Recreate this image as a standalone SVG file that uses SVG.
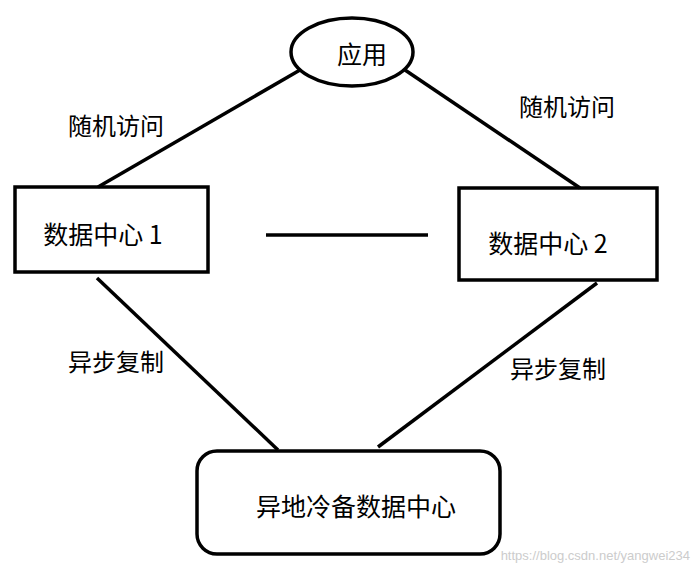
<svg xmlns="http://www.w3.org/2000/svg" width="700" height="574" viewBox="0 0 700 574">
<style>
.s{fill:none;stroke:#000;stroke-width:3.5}
.t{font-family:"Microsoft YaHei","Noto Sans CJK SC",sans-serif;font-size:25px;fill:#000;text-anchor:middle;dominant-baseline:central}
.l{font-family:"Noto Sans CJK SC",sans-serif;font-size:24px;fill:#000;text-anchor:middle;dominant-baseline:central}
</style>
<rect width="700" height="574" fill="#fff"/>
<g id="connectors">
<line class="s" x1="300" y1="70" x2="98" y2="187"/>
<line class="s" x1="405" y1="70" x2="580" y2="188"/>
<line class="s" x1="97" y1="278" x2="278" y2="450"/>
<line class="s" x1="597" y1="283" x2="378" y2="447"/>
<line class="s" x1="266" y1="235" x2="428" y2="235"/>
<text class="l" x="116" y="124">随机访问</text>
<text class="l" x="567" y="105">随机访问</text>
<text class="l" x="116" y="360">异步复制</text>
<text class="l" x="558" y="367">异步复制</text>
</g>
<g id="app"><ellipse class="s" cx="352" cy="52" rx="61" ry="34"/><text class="t" x="362" y="53">应用</text></g>
<g id="dc1"><rect class="s" x="15" y="187" width="193" height="85"/><text class="t" x="103" y="233">数据中心 1</text></g>
<g id="dc2"><rect class="s" x="459" y="188" width="198" height="92"/><text class="t" x="548" y="242">数据中心 2</text></g>
<g id="cold"><rect class="s" x="197" y="451" width="303" height="103" rx="20"/><text class="t" x="356" y="505">异地冷备数据中心</text></g>
<text x="690" y="560" font-family="Liberation Sans,sans-serif" font-size="13" fill="#ccc" text-anchor="end">https://blog.csdn.net/yangwei234</text>
</svg>
